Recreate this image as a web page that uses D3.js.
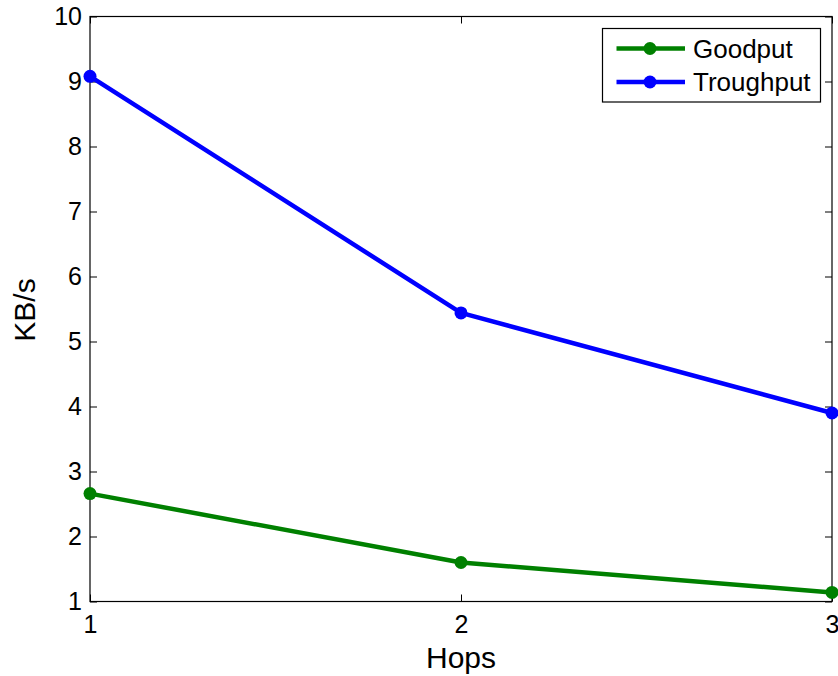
<!DOCTYPE html>
<html>
<head>
<meta charset="utf-8">
<script src="https://cdn.jsdelivr.net/npm/d3@7"></script>
<style>
  body { margin: 0; background: #fff; }
  svg { display: block; }
</style>
</head>
<body>
<div id="chart"></div>
<script>
// data
const hops = [1, 2, 3];
const goodput = [2.66, 1.6, 1.14];
const throughput = [9.08, 5.44, 3.9];
const yTicks = [1, 2, 3, 4, 5, 6, 7, 8, 9, 10];
const seriesNames = ["Goodput", "Troughput"];
const seriesColors = ["#008000", "#0000ff"];

const width = 838, height = 676;
const margin = {top: 16.5, right: 6, bottom: 74.5, left: 90};
const visWidth = width - margin.left - margin.right;
const visHeight = height - margin.top - margin.bottom;

const svg = d3.select("#chart").append("svg")
    .attr("width", width)
    .attr("height", height)
    .attr("font-family", "'Liberation Sans', Arial, sans-serif");

const g = svg.append("g")
    .attr("transform", `translate(${margin.left}, ${margin.top})`);

const x = d3.scaleLinear().domain([1, 3]).range([0, visWidth]);
const y = d3.scaleLinear().domain([1, 10]).range([visHeight, 0]);

const tickLen = 7;

// box
g.append("rect")
  .attr("x", 0).attr("y", 0)
  .attr("width", visWidth).attr("height", visHeight)
  .attr("fill", "none")
  .attr("stroke", "#000")
  .attr("stroke-width", 1.2);

// axes: ticks drawn inward, labels outside
const xAxis = d3.axisBottom(x).tickValues(hops).tickFormat(d3.format("d"))
  .tickSizeInner(-tickLen).tickSizeOuter(0).tickPadding(14);
const yAxis = d3.axisLeft(y).tickValues(yTicks).tickFormat(d3.format("d"))
  .tickSizeInner(-tickLen).tickSizeOuter(0).tickPadding(8);

g.append("g")
  .attr("transform", `translate(0, ${visHeight})`)
  .call(xAxis)
  .call(a => a.select(".domain").remove())
  .call(a => a.selectAll("text").attr("font-size", 25).attr("fill", "#000"))
  .call(a => a.selectAll("line").attr("stroke", "#000"));

g.append("g")
  .call(yAxis)
  .call(a => a.select(".domain").remove())
  .call(a => a.selectAll("text").attr("font-size", 25).attr("fill", "#000"))
  .call(a => a.selectAll("line").attr("stroke", "#000"));

// mirrored ticks on top and right
g.append("g")
  .call(d3.axisTop(x).tickValues(hops).tickSizeInner(-tickLen).tickSizeOuter(0).tickFormat(""))
  .call(a => a.select(".domain").remove())
  .call(a => a.selectAll("line").attr("stroke", "#000"));
g.append("g")
  .attr("transform", `translate(${visWidth}, 0)`)
  .call(d3.axisRight(y).tickValues(yTicks).tickSizeInner(-tickLen).tickSizeOuter(0).tickFormat(""))
  .call(a => a.select(".domain").remove())
  .call(a => a.selectAll("line").attr("stroke", "#000"));

// axis labels
g.append("text")
  .attr("x", visWidth / 2)
  .attr("y", height - margin.top - 8)
  .attr("text-anchor", "middle")
  .attr("font-size", 30)
  .text("Hops");

g.append("text")
  .attr("transform", `translate(${35 - margin.left}, ${310 - margin.top}) rotate(-90)`)
  .attr("text-anchor", "middle")
  .attr("font-size", 30)
  .text("KB/s");

// lines and points
const series = [goodput, throughput];
const line = d3.line().x((d, i) => x(hops[i])).y(d => y(d));

series.forEach((vals, s) => {
  g.append("path")
    .datum(vals)
    .attr("fill", "none")
    .attr("stroke", seriesColors[s])
    .attr("stroke-width", 4.5)
    .attr("stroke-linejoin", "round")
    .attr("d", line);
  g.selectAll(null)
    .data(vals)
    .join("circle")
      .attr("cx", (d, i) => x(hops[i]))
      .attr("cy", d => y(d))
      .attr("r", 6.5)
      .attr("fill", seriesColors[s]);
});

// legend
const lg = svg.append("g").attr("transform", "translate(602.5, 28.5)");
lg.append("rect")
  .attr("width", 218).attr("height", 73.5)
  .attr("fill", "#fff")
  .attr("stroke", "#000")
  .attr("stroke-width", 1.2);

seriesNames.forEach((name, s) => {
  const ly = 20 + s * 33.5;
  lg.append("line")
    .attr("x1", 14).attr("x2", 82.5)
    .attr("y1", ly).attr("y2", ly)
    .attr("stroke", seriesColors[s])
    .attr("stroke-width", 4.5);
  lg.append("circle")
    .attr("cx", 47.5).attr("cy", ly).attr("r", 6.5)
    .attr("fill", seriesColors[s]);
  lg.append("text")
    .attr("x", 90.5).attr("y", ly)
    .attr("dominant-baseline", "central")
    .attr("font-size", 26)
    .text(name);
});
</script>
</body>
</html>
